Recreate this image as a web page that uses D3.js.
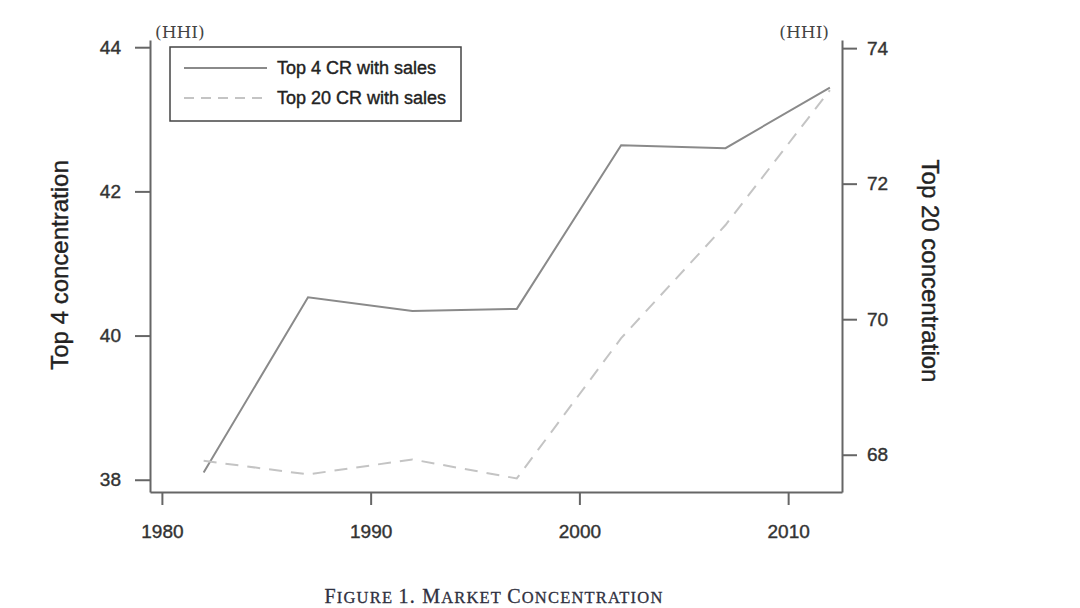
<!DOCTYPE html>
<html>
<head>
<meta charset="utf-8">
<script src="https://cdn.jsdelivr.net/npm/d3@7/dist/d3.min.js"></script>
<style>
  body { margin: 0; background: #fff; }
  .tick text { font-family: "Liberation Sans", Arial, sans-serif; font-size: 19px; fill: #333; stroke: #333; stroke-width: 0.4px; }
  .sans { font-family: "Liberation Sans", Arial, sans-serif; stroke-width: 0.4px; }
</style>
</head>
<body>
<div id="chart"></div>
<script>
// data
const years = [1982, 1987, 1992, 1997, 2002, 2007, 2012];
const top4 = [38.10, 40.53, 40.34, 40.37, 42.64, 42.60, 43.44];
const top20 = [67.91, 67.71, 67.93, 67.65, 69.72, 71.39, 73.38];
const xTicks = [1980, 1990, 2000, 2010];
const leftTicks = [38, 40, 42, 44];
const rightTicks = [68, 70, 72, 74];
const legendLabels = ['Top 4 CR with sales', 'Top 20 CR with sales'];

const width = 1080, height = 608;
const plotL = 150, plotR = 842, plotT = 40, plotB = 492;
const axisColor = '#666';

const svg = d3.select('#chart').append('svg')
  .attr('width', width)
  .attr('height', height);

const x = d3.scaleLinear().domain([1979.43, 2012.58]).range([plotL, plotR]);
const yL = d3.scaleLinear().domain([37.83, 44.10]).range([plotB, plotT]);
const yR = d3.scaleLinear().domain([67.45, 74.12]).range([plotB, plotT]);

// axes
const gLeft = svg.append('g')
  .attr('transform', `translate(${plotL},0)`)
  .call(d3.axisLeft(yL).tickValues(leftTicks).tickFormat(d3.format('d'))
    .tickSize(15).tickSizeOuter(0).tickPadding(14));

const gRight = svg.append('g')
  .attr('transform', `translate(${plotR},0)`)
  .call(d3.axisRight(yR).tickValues(rightTicks).tickFormat(d3.format('d'))
    .tickSize(15).tickSizeOuter(0).tickPadding(10));

const gBottom = svg.append('g')
  .attr('transform', `translate(0,${plotB})`)
  .call(d3.axisBottom(x).tickValues(xTicks).tickFormat(d3.format('d'))
    .tickSize(13).tickSizeOuter(0).tickPadding(20));

[gLeft, gRight, gBottom].forEach(g => {
  g.select('.domain').attr('stroke', axisColor).attr('stroke-width', 2);
  g.selectAll('.tick line').attr('stroke', axisColor).attr('stroke-width', 2);
});

// lines
const line4 = d3.line().x((d, i) => x(years[i])).y(d => yL(d));
const line20 = d3.line().x((d, i) => x(years[i])).y(d => yR(d));

svg.append('path')
  .datum(top4)
  .attr('d', line4)
  .attr('fill', 'none')
  .attr('stroke', '#8a8a8a')
  .attr('stroke-width', 2);

svg.append('path')
  .datum(top20)
  .attr('d', line20)
  .attr('fill', 'none')
  .attr('stroke', '#c4c4c4')
  .attr('stroke-width', 2)
  .attr('stroke-dasharray', '13,9');

// legend
const legend = svg.append('g');
legend.append('rect')
  .attr('x', 170).attr('y', 47)
  .attr('width', 291).attr('height', 74)
  .attr('fill', '#fff')
  .attr('stroke', '#444')
  .attr('stroke-width', 1.5);

legendLabels.forEach((lab, i) => {
  const ly = 68 + i * 30;
  legend.append('line')
    .attr('x1', 184).attr('x2', 267)
    .attr('y1', ly).attr('y2', ly)
    .attr('stroke', i === 0 ? '#8a8a8a' : '#c4c4c4')
    .attr('stroke-width', 2)
    .attr('stroke-dasharray', i === 0 ? null : '10,7');
  legend.append('text')
    .attr('class', 'sans')
    .attr('x', 277).attr('y', ly)
    .attr('dy', '0.35em')
    .style('font-size', '18px')
    .attr('fill', '#222')
    .attr('stroke', '#222')
    .text(lab);
});

// unit labels
[[155, 'start'], [829, 'end']].forEach(([ux, anchor]) => {
  svg.append('text')
    .attr('x', ux).attr('y', 38)
    .attr('text-anchor', anchor)
    .style('font-family', '"DejaVu Serif", serif')
    .style('font-size', '17px')
    .attr('fill', '#444')
    .text('(HHI)');
});

// axis titles
svg.append('text')
  .attr('class', 'sans')
  .attr('transform', `translate(68,265) rotate(-90)`)
  .attr('text-anchor', 'middle')
  .style('font-size', '24px')
  .attr('fill', '#222')
  .attr('stroke', '#222')
  .text('Top 4 concentration');

svg.append('text')
  .attr('class', 'sans')
  .attr('transform', `translate(922,271) rotate(90)`)
  .attr('text-anchor', 'middle')
  .style('font-size', '24px')
  .attr('fill', '#222')
  .attr('stroke', '#222')
  .text('Top 20 concentration');

// caption, small caps built from two sizes
const captionParts = [['F', 1], ['IGURE ', 0], ['1. M', 1], ['ARKET ', 0], ['C', 1], ['ONCENTRATION', 0]];
const caption = svg.append('text')
  .attr('x', 494).attr('y', 603)
  .attr('text-anchor', 'middle')
  .style('font-family', '"Liberation Serif", "DejaVu Serif", serif')
  .style('letter-spacing', '1.2px')
  .attr('fill', '#2f3040')
  .attr('stroke', '#2f3040')
  .attr('stroke-width', 0.3);
captionParts.forEach(([t, big]) => {
  caption.append('tspan')
    .style('font-size', big ? '20px' : '16.5px')
    .text(t);
});
</script>
</body>
</html>
